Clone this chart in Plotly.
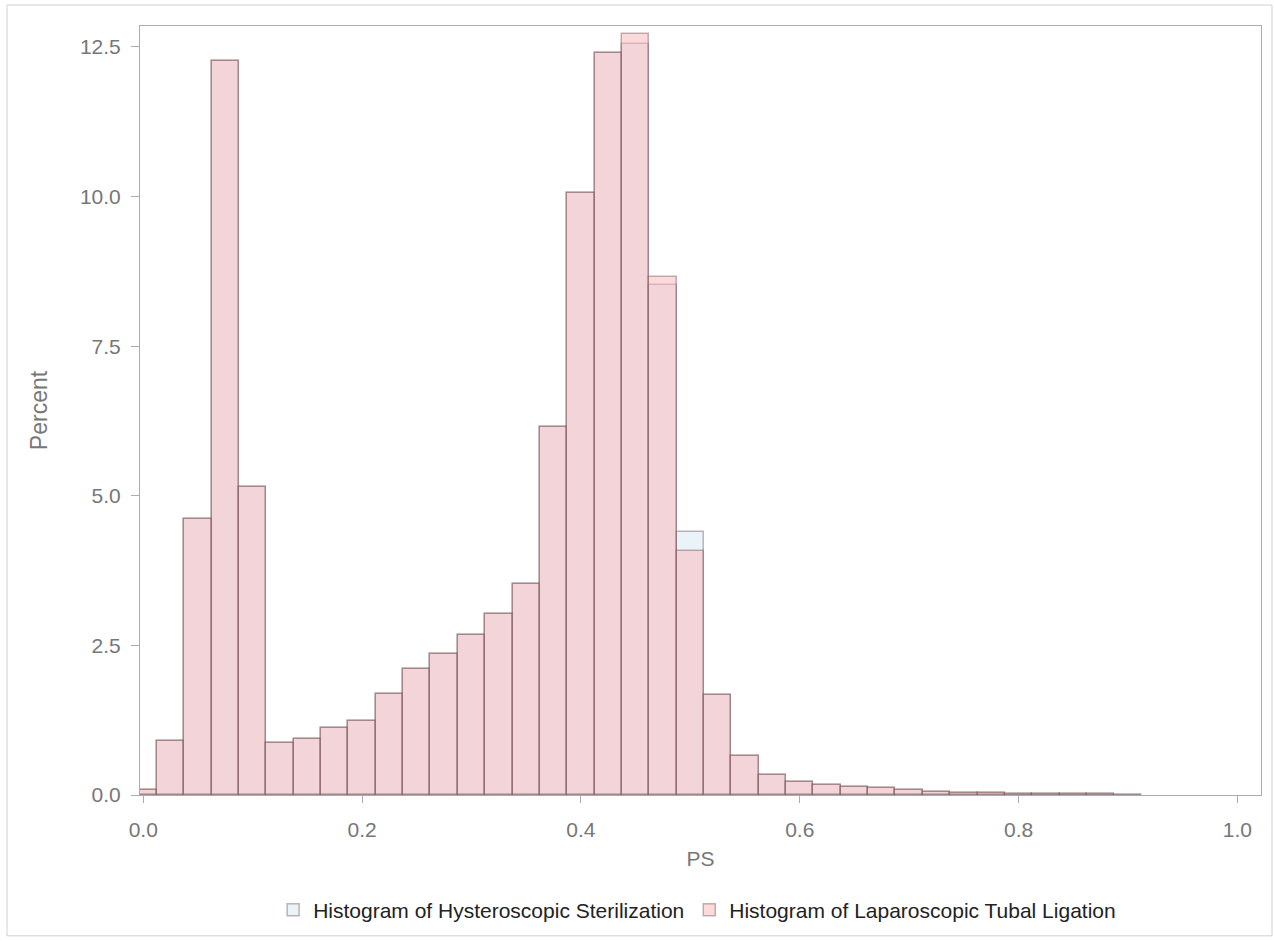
import plotly.graph_objects as go

# Propensity score bins (bin midpoints, width 0.025)
bin_width = 0.025
bin_mid = [0.000, 0.025, 0.050, 0.075, 0.100, 0.125, 0.150, 0.175, 0.200,
           0.225, 0.250, 0.275, 0.300, 0.325, 0.350, 0.375, 0.400, 0.425,
           0.450, 0.475, 0.500, 0.525, 0.550, 0.575, 0.600, 0.625, 0.650,
           0.675, 0.700, 0.725, 0.750, 0.775, 0.800, 0.825, 0.850, 0.875,
           0.900]

# Percent of each group falling in each bin
pct_hysteroscopic = [0.08, 0.91, 4.61, 12.26, 5.14, 0.87, 0.93, 1.12, 1.24,
                     1.69, 2.10, 2.35, 2.68, 3.02, 3.53, 6.15, 10.06, 12.40,
                     12.55, 8.52, 4.39, 1.67, 0.66, 0.33, 0.22, 0.16, 0.13,
                     0.12, 0.08, 0.05, 0.04, 0.03, 0.02, 0.015, 0.01, 0.01,
                     0.005]
pct_laparoscopic = [0.08, 0.91, 4.61, 12.26, 5.14, 0.87, 0.93, 1.12, 1.24,
                    1.69, 2.10, 2.35, 2.68, 3.02, 3.53, 6.15, 10.06, 12.40,
                    12.71, 8.66, 4.08, 1.67, 0.66, 0.33, 0.22, 0.16, 0.13,
                    0.12, 0.08, 0.05, 0.04, 0.03, 0.02, 0.015, 0.01, 0.01,
                    0.005]

x_ticks = [0.0, 0.2, 0.4, 0.6, 0.8, 1.0]
y_ticks = [0.0, 2.5, 5.0, 7.5, 10.0, 12.5]

FONT = "Liberation Sans, Arial, sans-serif"
AXIS_GREY = "#a9adb2"
LABEL_GREY = "#777777"
OUTLINE = "rgba(105,70,75,0.40)"

fig = go.Figure()
fig.add_trace(go.Bar(
    x=bin_mid, y=pct_hysteroscopic, width=[bin_width] * len(bin_mid),
    name="Histogram of Hysteroscopic Sterilization",
    marker=dict(color="rgba(213,231,241,0.5)",
                line=dict(color=OUTLINE, width=1.5)),
))
fig.add_trace(go.Bar(
    x=bin_mid, y=pct_laparoscopic, width=[bin_width] * len(bin_mid),
    name="Histogram of Laparoscopic Tubal Ligation",
    marker=dict(color="rgba(250,181,186,0.5)",
                line=dict(color=OUTLINE, width=1.5)),
))

L, R, T, B = 140, 13, 26, 145
W, H = 1274, 941
pw, ph = W - L - R, H - T - B

def px_x(p):
    return (p - L) / pw

def px_y(p):
    return (H - B - p) / ph

fig.update_layout(
    width=W, height=H,
    margin=dict(l=L, r=R, t=T, b=B),
    barmode="overlay", bargap=0,
    paper_bgcolor="white", plot_bgcolor="white",
    font=dict(family=FONT, size=21, color=LABEL_GREY),
    showlegend=True,
    legend=dict(orientation="h", x=0.497, xanchor="center",
                y=px_y(910), yanchor="middle",
                font=dict(family=FONT, size=21, color="#222222"),
                traceorder="normal", itemwidth=30),
    xaxis=dict(range=[-0.003, 1.0216], tickvals=x_ticks, tickformat=".1f",
               showgrid=False, zeroline=False, showline=True, mirror=True,
               linecolor=AXIS_GREY, linewidth=1,
               ticks="outside", ticklen=7, tickcolor=AXIS_GREY,
               ticklabelstandoff=9,
               tickfont=dict(family=FONT, size=21, color=LABEL_GREY),
               title=dict(text="PS", standoff=11,
                          font=dict(family=FONT, size=21, color=LABEL_GREY))),
    yaxis=dict(range=[0, 12.85], tickvals=y_ticks, tickformat=".1f",
               showgrid=False, zeroline=False, showline=True, mirror=True,
               linecolor=AXIS_GREY, linewidth=1,
               ticks="outside", ticklen=8, tickcolor=AXIS_GREY,
               ticklabelstandoff=6,
               tickfont=dict(family=FONT, size=21, color=LABEL_GREY),
               title=dict(text="Percent", standoff=25,
                          font=dict(family=FONT, size=23, color=LABEL_GREY))),
    shapes=[dict(type="rect", xref="paper", yref="paper",
                 x0=px_x(7), x1=px_x(1272), y0=px_y(937), y1=px_y(5),
                 line=dict(color="#d0d0d0", width=1), layer="below")],
)

fig.write_html("out.html")
